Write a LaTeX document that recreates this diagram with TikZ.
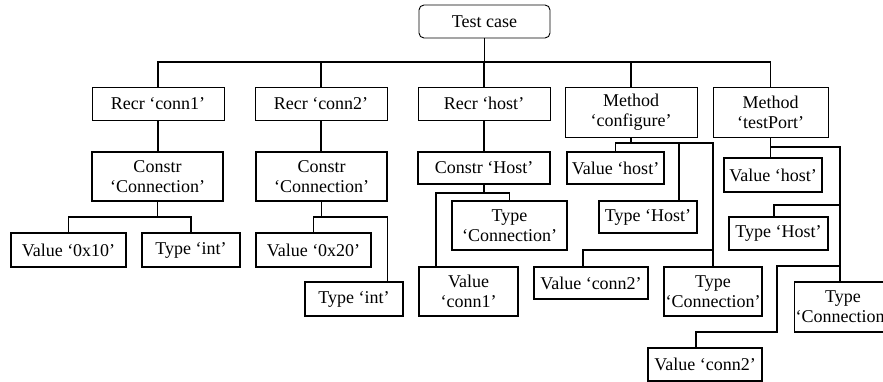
\documentclass[tikz,border=0pt]{standalone}
\usepackage{fontspec}
\setmainfont{Liberation Serif}
\begin{document}
\begin{tikzpicture}[x=1pt,y=-1pt,
  base/.style={draw=black,inner sep=1pt,align=center,font=\fontsize{18}{20}\selectfont},
  thinbox/.style={base,line width=0.6pt},
  thickbox/.style={base,line width=1.3pt},
  rootbox/.style={base,line width=0.9pt,rounded corners=5pt},
  conn/.style={line width=1.2pt}]
\useasboundingbox (0,0) rectangle (883,382);
\clip (0,0) rectangle (883,382);
% level 0
\node[rootbox,minimum width=131pt,minimum height=33pt] (tc) at (484.5,21.5) {Test case};
% level 1
\node[thinbox,minimum width=132pt,minimum height=33pt] (r1) at (158,103.5) {Recr ‘conn1’};
\node[thinbox,minimum width=132pt,minimum height=33pt] (r2) at (321,103.5) {Recr ‘conn2’};
\node[thinbox,minimum width=132pt,minimum height=33pt] (r3) at (484,103.5) {Recr ‘host’};
\node[thinbox,minimum width=132pt,minimum height=50pt] (m1) at (631,112) {Method\\‘configure’};
\node[thinbox,minimum width=115pt,minimum height=50pt] (m2) at (770.5,112) {Method\\‘testPort’};
% level 2
\node[thickbox,minimum width=131pt,minimum height=49pt] (c1) at (157.5,176.5) {Constr\\‘Connection’};
\node[thickbox,minimum width=131pt,minimum height=49pt] (c2) at (321.5,176.5) {Constr\\‘Connection’};
\node[thickbox,minimum width=132pt,minimum height=32pt] (c3) at (484,168) {Constr ‘Host’};
% children of c1, c2
\node[thickbox,minimum width=115pt,minimum height=34pt] (v1) at (68.5,250) {Value ‘0x10’};
\node[thickbox,minimum width=98pt,minimum height=34pt] (t1) at (191,250) {Type ‘int’};
\node[thickbox,minimum width=115pt,minimum height=34pt] (v2) at (313.5,250) {Value ‘0x20’};
\node[thickbox,minimum width=98pt,minimum height=34pt] (t2) at (354,299) {Type ‘int’};
% children of c3
\node[thickbox,minimum width=115pt,minimum height=49pt] (tcn) at (509.5,225.5) {Type\\‘Connection’};
\node[thickbox,minimum width=99pt,minimum height=49pt] (vc1) at (468.5,291.5) {Value\\‘conn1’};
% children of m1
\node[thickbox,minimum width=97pt,minimum height=32pt] (vh1) at (615.5,168) {Value ‘host’};
\node[thickbox,minimum width=98pt,minimum height=32pt] (th1) at (648,217) {Type ‘Host’};
\node[thickbox,minimum width=114pt,minimum height=32pt] (vcn2) at (591,283) {Value ‘conn2’};
\node[thickbox,minimum width=98pt,minimum height=49pt] (tcn2) at (713,291.5) {Type\\‘Connection’};
% children of m2
\node[thickbox,minimum width=98pt,minimum height=34pt] (vh2) at (773,175) {Value ‘host’};
\node[thickbox,minimum width=99pt,minimum height=33pt] (th2) at (778.5,233.5) {Type ‘Host’};
\node[thickbox,minimum width=96pt,minimum height=50pt] (tcn3) at (843,307) {Type\\‘Connection’};
\node[thickbox,minimum width=114pt,minimum height=33pt] (vcn3) at (705,364.5) {Value ‘conn2’};
% junction coordinates
\coordinate (bus) at (484,62);
\coordinate (j1) at (158,217);
\coordinate (k3) at (436,193);
\coordinate (km1) at (679,143);
\coordinate (km1r) at (713,143);
\coordinate (km1b) at (583,250);
\coordinate (km2) at (840,147);
\coordinate (km2a) at (774,205);
\coordinate (km2b) at (777,266);
\coordinate (km2c) at (696,332);
% connectors level 0-1
\draw[conn] (tc.south) -- (tc.south |- bus);
\draw[conn] (r1.north) -- (r1.north |- bus) -- (m2.north |- bus) -- (m2.north);
\draw[conn] (r2.north) -- (r2.north |- bus);
\draw[conn] (r3.north) -- (r3.north |- bus);
\draw[conn] (m1.north) -- (m1.north |- bus);
% level 1-2
\draw[conn] (r1.south) -- (r1.south |- c1.north);
\draw[conn] (r2.south) -- (r2.south |- c2.north);
\draw[conn] (r3.south) -- (r3.south |- c3.north);
% c1
\draw[conn] (c1.south) -- (c1.south |- j1);
\draw[conn] (v1.north) |- (t1.north |- j1) -- (t1.north);
% c2
\draw[conn] (c2.south) -- (c2.south |- j1);
\draw[conn] (v2.north) |- (c2.south east |- j1) -- (c2.south east |- t2.north);
% c3
\draw[conn] (c3.south) -- (c3.south |- k3);
\draw[conn] (k3 |- vc1.north) -- (k3) -- (tcn.north |- k3) -- (tcn.north);
% m1
\draw[conn] (m1.south) -- (m1.south |- km1);
\draw[conn] (vh1.north) |- (km1r) -- (km1r |- tcn2.north);
\draw[conn] (km1) -- (km1 |- th1.north);
\draw[conn] (km1b |- vcn2.north) -- (km1b) -- (km1r |- km1b);
% m2
\draw[conn] (m2.south) -- (m2.south |- vh2.north);
\draw[conn] (m2.south |- km2) -- (km2) -- (km2 |- tcn3.north);
\draw[conn] (km2a |- th2.north) -- (km2a) -- (km2 |- km2a);
\draw[conn] (km2 |- km2b) -- (km2b) -- (km2b |- km2c) -- (km2c) -- (km2c |- vcn3.north);
\end{tikzpicture}
\end{document}
